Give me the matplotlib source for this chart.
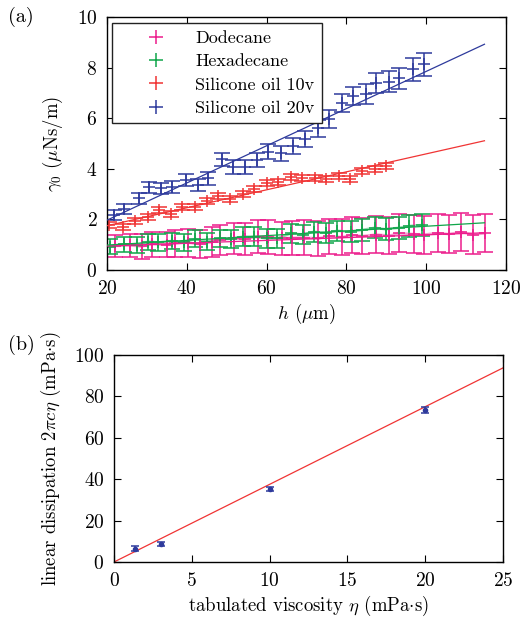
import numpy as np
import matplotlib
matplotlib.use('Agg')
import matplotlib.pyplot as plt
from matplotlib.lines import Line2D

plt.rcParams['font.family'] = 'cmr10'
plt.rcParams['mathtext.fontset'] = 'cm'
plt.rcParams['axes.formatter.use_mathtext'] = True
plt.rcParams['font.size'] = 13.5
plt.rcParams['xtick.direction'] = 'in'
plt.rcParams['ytick.direction'] = 'in'
plt.rcParams['xtick.top'] = True
plt.rcParams['ytick.right'] = True

# colours
c_dod = '#ec1c8c'
c_hex = '#10a64a'
c_s10 = '#f03434'
c_s20 = '#2e3a9c'

# --- panel (a) data ---
h_dod = [22.0, 25.8, 28.7, 31.2, 35.0, 37.0, 40.3, 43.3, 46.2, 48.3, 51.8, 54.5,
         57.8, 60.3, 63.8, 66.3, 69.3, 72.9, 75.7, 79.0, 81.4, 84.0, 87.5, 90.8,
         93.3, 96.9, 99.4, 102.9, 105.6, 108.7, 111.8, 114.7]
g_dod = [0.95, 0.97, 0.93, 1.02, 1.00, 1.05, 1.08, 1.02, 1.10, 1.19, 1.25, 1.22,
         1.32, 1.30, 1.25, 1.27, 1.28, 1.25, 1.33, 1.30, 1.38, 1.34, 1.40, 1.36,
         1.45, 1.42, 1.40, 1.46, 1.42, 1.50, 1.40, 1.45]
e_dod = [0.45, 0.46, 0.48, 0.50, 0.50, 0.52, 0.55, 0.55, 0.58, 0.60, 0.62, 0.62,
         0.65, 0.66, 0.66, 0.68, 0.68, 0.70, 0.70, 0.72, 0.72, 0.72, 0.74, 0.74,
         0.75, 0.75, 0.75, 0.76, 0.76, 0.76, 0.76, 0.75]

h_hex = [20.8, 24.2, 27.5, 30.3, 32.9, 36.3, 39.2, 42.1, 45.0, 48.3, 51.0, 54.1,
         56.8, 60.0, 62.7, 66.2, 69.1, 71.8, 75.0, 77.7, 81.1, 83.8, 87.1, 89.8,
         93.2, 95.8, 99.0]
g_hex = [0.92, 1.02, 0.99, 1.12, 1.09, 1.15, 1.09, 1.23, 1.12, 1.25, 1.23, 1.32,
         1.32, 1.25, 1.25, 1.45, 1.40, 1.51, 1.47, 1.55, 1.51, 1.58, 1.67, 1.61,
         1.67, 1.74, 1.78]
e_hex = [0.30, 0.30, 0.31, 0.32, 0.32, 0.33, 0.33, 0.34, 0.34, 0.35, 0.35, 0.36,
         0.36, 0.37, 0.37, 0.38, 0.38, 0.39, 0.40, 0.40, 0.41, 0.42, 0.42, 0.43,
         0.43, 0.44, 0.45]

h_s10 = [20.6, 24.1, 27.1, 30.2, 33.1, 36.1, 38.7, 42.1, 45.0, 47.9, 50.8, 54.0,
         56.9, 60.0, 62.9, 66.1, 68.9, 72.1, 75.0, 78.2, 81.0, 84.0, 87.1, 90.0]
g_s10 = [1.78, 1.69, 1.94, 2.08, 2.37, 2.20, 2.50, 2.50, 2.74, 2.92, 2.81, 2.99,
         3.19, 3.43, 3.49, 3.66, 3.62, 3.65, 3.58, 3.72, 3.58, 3.91, 3.99, 4.12]
e_s10 = [0.12] * len(h_s10)

h_s20 = [21.8, 24.3, 27.9, 30.6, 33.6, 36.2, 39.8, 42.7, 45.4, 48.7, 51.7, 54.6,
         57.5, 60.4, 63.6, 66.5, 69.6, 72.9, 75.7, 78.8, 81.6, 84.8, 87.5, 90.8,
         93.2, 96.7, 99.4]
g_s20 = [2.17, 2.41, 2.83, 3.27, 3.23, 3.29, 3.56, 3.36, 3.62, 4.37, 4.06, 4.08,
         4.35, 4.68, 4.61, 4.90, 5.17, 5.60, 5.97, 6.61, 6.88, 6.96, 7.40, 7.44,
         7.58, 7.93, 8.13]
e_s20 = [0.20, 0.20, 0.21, 0.22, 0.22, 0.23, 0.24, 0.24, 0.25, 0.26, 0.27, 0.27,
         0.28, 0.29, 0.30, 0.31, 0.32, 0.34, 0.35, 0.36, 0.37, 0.38, 0.40, 0.41,
         0.42, 0.44, 0.46]

# linear fits (intercept, slope)
fit_dod = (0.84, 0.0055)
fit_hex = (0.80, 0.0093)
fit_s10 = (1.04, 0.0355)
fit_s20 = (0.50, 0.0735)
fit_range = [20, 114.6]

labels = ['Dodecane', 'Hexadecane', 'Silicone oil 10v', 'Silicone oil 20v']

# --- panel (b) data ---
eta = [1.37, 3.04, 10.0, 20.0]
dissip = [6.5, 8.5, 35.4, 73.6]
dissip_err = [1.2, 1.0, 0.9, 1.5]
slope_b = 3.75

fig = plt.figure(figsize=(5.26, 6.18), dpi=100)
ax1 = fig.add_axes([0.2034, 0.5631, 0.7586, 0.4094])
ax2 = fig.add_axes([0.2167, 0.0906, 0.7395, 0.3350])

series = [(h_dod, g_dod, e_dod, fit_dod, c_dod),
          (h_hex, g_hex, e_hex, fit_hex, c_hex),
          (h_s10, g_s10, e_s10, fit_s10, c_s10),
          (h_s20, g_s20, e_s20, fit_s20, c_s20)]

# faint guide lines through the low-viscosity data
ax1.plot(h_dod, g_dod, color=c_dod, lw=1.8, alpha=0.45, zorder=1)
ax1.plot(h_hex, g_hex, color=c_hex, lw=1.8, alpha=0.45, zorder=1)

for h, g, e, fit, col in series:
    ax1.errorbar(h, g, yerr=e, fmt='+', color=col, ms=9, mew=1.1,
                 elinewidth=1.1, capsize=5.5, capthick=1.1, zorder=2)
    xf = np.array(fit_range)
    ax1.plot(xf, fit[0] + fit[1] * xf, color=col, lw=0.9, zorder=3)

ax1.set_xlim(20, 120)
ax1.set_ylim(0, 10)
ax1.set_xticks([20, 40, 60, 80, 100, 120])
ax1.set_yticks([0, 2, 4, 6, 8, 10])
ax1.set_xlabel(r'$h$ ($\mu$m)', labelpad=3)
ax1.set_ylabel(r'$\gamma_0$ ($\mu$Ns/m)', labelpad=8)

handles = [Line2D([], [], ls='none', marker='+', ms=10, mew=1.1, color=c)
           for c in [c_dod, c_hex, c_s10, c_s20]]
leg = ax1.legend(handles, labels, loc='upper left', bbox_to_anchor=(0.013, 0.975),
                 fontsize=13, handlelength=4.0, handletextpad=0.2, borderpad=0.4,
                 labelspacing=0.42, fancybox=False, framealpha=1, borderaxespad=0)
leg.get_frame().set_edgecolor('#222222')
leg.get_frame().set_linewidth(1.0)

ax2.errorbar(eta, dissip, yerr=dissip_err, fmt='o', color=c_s20, ms=3,
             elinewidth=1.1, capsize=3, capthick=1.1, zorder=3)
xb = np.array([0, 25])
ax2.plot(xb, slope_b * xb, color=c_s10, lw=0.9, zorder=2)
ax2.set_xlim(0, 25)
ax2.set_ylim(0, 100)
ax2.set_xticks([0, 5, 10, 15, 20, 25])
ax2.set_yticks([0, 20, 40, 60, 80, 100])
ax2.set_xlabel(r'tabulated viscosity $\eta$ (mPa$\cdot$s)', labelpad=3)
ax2.set_ylabel(r'linear dissipation $2\pi c\eta$ (mPa$\cdot$s)', labelpad=8)

for ax in (ax1, ax2):
    ax.tick_params(length=5, width=0.8, labelsize=14, pad=7)
    for s in ax.spines.values():
        s.set_linewidth(1.0)

fig.text(0.015, 0.972, '(a)', fontsize=14.5, va='center')
fig.text(0.015, 0.442, '(b)', fontsize=14.5, va='center')

fig.savefig('out.png', dpi=100)
